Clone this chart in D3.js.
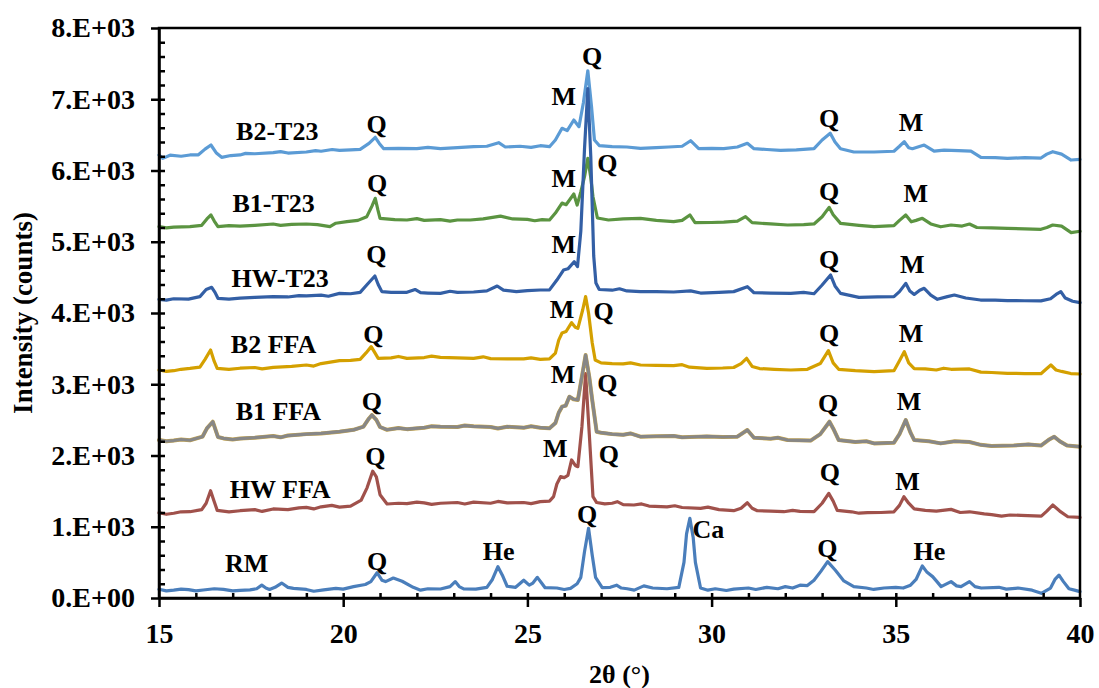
<!DOCTYPE html>
<html>
<head>
<meta charset="utf-8">
<script src="https://cdn.jsdelivr.net/npm/d3@7"></script>
<style>
  body { margin: 0; background: #fff; }
  text { font-family: "Liberation Serif", "Times New Roman", serif; font-weight: bold; fill: #000; }
  .line { fill: none; stroke-width: 3.2; stroke-linejoin: round; stroke-linecap: round; }
  .axis path, .axis line { stroke: #000; stroke-width: 2.5; }
</style>
</head>
<body>
<div id="my_dataviz"></div>
<script>
// ---------------------------------------------------------------- data
// each pattern is a list of [2theta, counts]
const rm = [[15.0,122],[15.2,100],[15.4,110],[15.6,125],[15.8,118],[16.0,100],[16.2,112],[16.5,130],[16.75,120],[17.0,100],[17.2,108],[17.47,115],[17.65,130],[17.79,180],[17.9,140],[18.0,120],[18.15,150],[18.33,210],[18.5,150],[18.65,135],[19.0,120],[19.2,95],[19.47,115],[19.8,135],[20.0,125],[20.28,160],[20.6,190],[20.75,230],[20.92,355],[21.05,250],[21.15,230],[21.36,280],[21.6,235],[21.9,150],[22.1,110],[22.3,130],[22.64,126],[22.9,160],[23.04,230],[23.15,160],[23.27,128],[23.6,125],[23.9,150],[24.05,260],[24.2,440],[24.32,320],[24.45,165],[24.68,150],[24.9,250],[25.05,180],[25.15,210],[25.27,290],[25.4,200],[25.48,145],[25.8,140],[26.0,120],[26.17,136],[26.35,200],[26.45,290],[26.55,650],[26.66,978],[26.76,600],[26.85,290],[27.03,145],[27.25,150],[27.42,180],[27.55,140],[27.71,130],[27.9,110],[28.16,170],[28.4,140],[28.79,130],[29.11,150],[29.25,500],[29.32,900],[29.41,1118],[29.5,850],[29.56,500],[29.7,140],[29.9,110],[30.1,130],[30.4,105],[30.6,125],[31.0,140],[31.2,120],[31.5,150],[31.8,130],[32.0,160],[32.2,140],[32.4,180],[32.6,175],[32.78,250],[32.96,370],[33.15,510],[33.36,390],[33.59,240],[33.86,160],[34.2,140],[34.4,120],[34.68,140],[35.0,150],[35.2,140],[35.4,180],[35.55,260],[35.72,450],[35.85,360],[36.0,300],[36.1,240],[36.23,160],[36.5,230],[36.65,170],[36.77,160],[37.0,230],[37.15,160],[37.32,140],[37.8,150],[38.0,125],[38.32,140],[38.7,110],[38.95,66],[39.2,140],[39.32,260],[39.43,320],[39.55,230],[39.7,130],[39.85,110],[40.0,90]];

const hwFFA = [[15.0,1197],[15.2,1175],[15.4,1190],[15.6,1210],[15.84,1211],[16.16,1240],[16.28,1330],[16.4,1506],[16.5,1350],[16.58,1230],[16.9,1210],[17.2,1225],[17.6,1240],[17.8,1215],[18.1,1250],[18.5,1240],[18.8,1265],[19.0,1272],[19.2,1250],[19.4,1280],[19.69,1300],[19.9,1275],[20.2,1290],[20.49,1375],[20.65,1550],[20.8,1780],[20.9,1700],[21.0,1450],[21.19,1319],[21.5,1330],[21.73,1325],[22.0,1345],[22.2,1335],[22.4,1315],[22.64,1330],[23.1,1340],[23.3,1320],[23.54,1345],[24.0,1330],[24.2,1355],[24.45,1335],[24.9,1340],[25.1,1325],[25.35,1352],[25.6,1360],[25.71,1422],[25.8,1600],[25.9,1703],[26.0,1690],[26.1,1720],[26.2,1937],[26.3,1860],[26.37,1843],[26.48,2404],[26.58,3150],[26.68,2300],[26.78,1422],[26.88,1340],[27.1,1320],[27.3,1330],[27.44,1352],[27.6,1310],[27.89,1305],[28.1,1320],[28.3,1290],[28.79,1280],[29.0,1295],[29.2,1270],[29.7,1258],[29.9,1275],[30.2,1240],[30.6,1225],[30.8,1260],[30.97,1337],[31.1,1260],[31.24,1225],[31.6,1220],[31.96,1211],[32.2,1230],[32.4,1215],[32.78,1211],[33.0,1330],[33.18,1469],[33.3,1360],[33.41,1230],[33.8,1210],[34.0,1190],[34.23,1197],[34.6,1200],[34.95,1210],[35.1,1300],[35.22,1422],[35.35,1330],[35.5,1250],[35.8,1230],[36.1,1220],[36.5,1244],[36.75,1200],[37.0,1210],[37.4,1180],[37.6,1170],[37.87,1150],[38.1,1165],[38.4,1160],[38.95,1150],[39.1,1220],[39.26,1305],[39.45,1220],[39.67,1140],[40.0,1132]];

const b1FFA = [[15.0,2217],[15.2,2200],[15.4,2210],[15.6,2225],[15.84,2214],[16.18,2264],[16.3,2380],[16.46,2474],[16.6,2260],[16.75,2240],[17.0,2225],[17.2,2238],[17.6,2250],[18.1,2274],[18.3,2255],[18.5,2280],[19.0,2300],[19.4,2310],[19.9,2334],[20.28,2360],[20.55,2404],[20.7,2520],[20.78,2568],[20.9,2500],[21.0,2400],[21.19,2361],[21.5,2385],[21.73,2370],[22.2,2390],[22.4,2410],[22.64,2404],[23.1,2400],[23.3,2420],[23.54,2410],[24.0,2400],[24.2,2380],[24.45,2404],[24.9,2390],[25.1,2410],[25.35,2390],[25.6,2381],[25.76,2456],[25.85,2600],[25.94,2685],[26.04,2700],[26.14,2825],[26.25,2790],[26.37,2780],[26.48,3106],[26.58,3410],[26.68,3100],[26.76,2779],[26.88,2334],[27.0,2320],[27.3,2300],[27.6,2290],[27.8,2310],[28.07,2264],[28.5,2270],[28.97,2275],[29.2,2255],[29.4,2260],[29.87,2268],[30.3,2260],[30.7,2264],[30.97,2358],[31.15,2250],[31.6,2235],[31.8,2250],[32.06,2217],[32.69,2210],[32.95,2300],[33.2,2474],[33.3,2380],[33.45,2217],[33.9,2190],[34.2,2200],[34.41,2170],[34.95,2180],[35.1,2300],[35.27,2498],[35.4,2320],[35.5,2217],[35.9,2200],[36.22,2170],[36.6,2200],[37.0,2190],[37.3,2150],[37.6,2133],[38.2,2140],[38.6,2155],[38.94,2140],[39.15,2220],[39.3,2264],[39.45,2200],[39.65,2140],[40.0,2124]];

const b2FFA = [[15.0,3200],[15.2,3180],[15.4,3190],[15.6,3210],[15.84,3222],[16.11,3240],[16.25,3350],[16.4,3480],[16.5,3320],[16.58,3224],[16.9,3210],[17.2,3225],[17.6,3235],[17.8,3215],[18.1,3238],[18.6,3250],[19.0,3270],[19.2,3255],[19.4,3290],[19.9,3331],[20.2,3335],[20.46,3350],[20.62,3440],[20.76,3528],[20.85,3450],[20.95,3364],[21.3,3370],[21.5,3390],[21.73,3364],[22.2,3375],[22.4,3395],[22.64,3378],[23.1,3370],[23.54,3364],[23.8,3385],[24.0,3360],[24.45,3357],[24.9,3355],[25.1,3370],[25.35,3350],[25.6,3355],[25.76,3438],[25.85,3620],[25.94,3719],[26.05,3740],[26.2,3864],[26.3,3800],[26.37,3785],[26.5,4042],[26.58,4230],[26.66,4000],[26.76,3578],[26.84,3340],[27.0,3300],[27.3,3290],[27.6,3285],[27.8,3300],[28.07,3270],[28.5,3265],[28.97,3262],[29.2,3275],[29.4,3240],[29.87,3224],[30.3,3228],[30.6,3235],[30.8,3290],[30.95,3364],[31.1,3250],[31.3,3220],[31.7,3210],[32.15,3200],[32.6,3210],[32.95,3290],[33.17,3471],[33.3,3300],[33.45,3210],[33.9,3190],[34.41,3177],[34.95,3190],[35.1,3330],[35.23,3457],[35.35,3300],[35.5,3220],[35.8,3215],[36.1,3200],[36.3,3225],[36.5,3210],[37.0,3215],[37.31,3170],[37.6,3165],[38.03,3154],[38.5,3150],[38.94,3148],[39.1,3220],[39.21,3270],[39.35,3200],[39.5,3180],[39.75,3150],[40.0,3144]];

const hwT23 = [[15.0,4192],[15.2,4180],[15.4,4200],[15.8,4195],[16.11,4230],[16.28,4330],[16.43,4360],[16.52,4290],[16.6,4206],[16.9,4195],[17.2,4210],[17.6,4220],[18.1,4229],[18.5,4225],[18.8,4245],[19.0,4240],[19.4,4250],[19.6,4235],[19.9,4276],[20.2,4270],[20.46,4290],[20.65,4400],[20.86,4519],[20.95,4400],[21.05,4300],[21.3,4290],[21.73,4290],[21.95,4330],[22.1,4285],[22.3,4280],[22.64,4275],[22.9,4305],[23.1,4290],[23.54,4295],[23.9,4310],[24.18,4379],[24.35,4320],[24.7,4300],[25.0,4315],[25.35,4323],[25.6,4325],[25.8,4463],[25.98,4603],[26.1,4620],[26.27,4720],[26.36,4650],[26.45,5150],[26.55,6300],[26.64,7150],[26.72,6200],[26.8,4800],[26.86,4420],[26.95,4330],[27.3,4320],[27.5,4340],[27.7,4310],[28.07,4299],[28.5,4300],[28.97,4295],[29.43,4310],[29.7,4280],[30.2,4290],[30.6,4300],[30.97,4370],[31.15,4285],[31.6,4280],[32.15,4276],[32.5,4290],[32.78,4270],[33.0,4393],[33.23,4533],[33.35,4380],[33.5,4276],[34.0,4220],[34.5,4225],[34.95,4230],[35.1,4300],[35.27,4416],[35.38,4310],[35.5,4260],[35.65,4320],[35.77,4346],[35.95,4250],[36.13,4192],[36.4,4230],[36.59,4252],[36.9,4210],[37.3,4182],[37.7,4180],[38.03,4175],[38.5,4172],[38.94,4170],[39.2,4200],[39.35,4260],[39.48,4300],[39.6,4210],[39.8,4165],[40.0,4145]];

const b1T23 = [[15.0,5212],[15.2,5195],[15.4,5205],[15.84,5212],[16.16,5230],[16.3,5320],[16.41,5376],[16.5,5290],[16.6,5212],[16.9,5225],[17.2,5218],[17.6,5230],[18.1,5249],[18.3,5230],[18.6,5245],[19.0,5249],[19.3,5240],[19.64,5212],[19.8,5260],[20.1,5282],[20.4,5300],[20.64,5352],[20.78,5500],[20.87,5610],[20.94,5450],[21.0,5329],[21.4,5310],[21.73,5305],[22.0,5325],[22.2,5300],[22.64,5310],[22.9,5290],[23.1,5305],[23.45,5305],[23.8,5320],[24.27,5360],[24.6,5320],[25.0,5315],[25.2,5295],[25.4,5310],[25.6,5305],[25.76,5403],[25.94,5543],[26.05,5520],[26.26,5670],[26.35,5515],[26.45,5700],[26.55,5913],[26.64,6171],[26.72,5900],[26.78,5632],[26.9,5333],[27.2,5305],[27.6,5320],[28.07,5329],[28.5,5300],[28.97,5282],[29.2,5300],[29.41,5376],[29.55,5268],[30.0,5270],[30.33,5275],[30.7,5290],[30.92,5352],[31.1,5268],[31.6,5250],[32.06,5235],[32.5,5240],[32.78,5250],[33.0,5350],[33.19,5483],[33.3,5380],[33.5,5258],[34.0,5230],[34.41,5211],[34.95,5225],[35.1,5300],[35.27,5376],[35.42,5280],[35.55,5300],[35.72,5329],[35.95,5250],[36.22,5210],[36.5,5235],[36.8,5220],[37.0,5249],[37.2,5200],[37.6,5195],[38.03,5189],[38.5,5180],[38.94,5175],[39.1,5200],[39.26,5235],[39.5,5220],[39.76,5128],[40.0,5147]];

const b2T23 = [[15.0,6218],[15.1,6170],[15.3,6215],[15.6,6200],[15.84,6218],[16.07,6220],[16.25,6300],[16.41,6358],[16.55,6250],[16.7,6185],[16.95,6210],[17.2,6218],[17.35,6240],[17.6,6235],[18.1,6250],[18.3,6265],[18.5,6245],[19.0,6260],[19.25,6280],[19.4,6270],[19.7,6295],[19.9,6283],[20.2,6290],[20.46,6297],[20.7,6380],[20.87,6466],[20.98,6380],[21.1,6306],[21.5,6310],[22.0,6306],[22.3,6325],[22.64,6306],[23.1,6320],[23.54,6334],[23.9,6340],[24.22,6390],[24.4,6330],[24.8,6340],[25.1,6325],[25.35,6348],[25.6,6334],[25.76,6428],[25.94,6592],[26.08,6560],[26.26,6709],[26.4,6615],[26.52,6950],[26.64,7400],[26.74,6900],[26.82,6428],[26.95,6350],[27.3,6334],[27.7,6330],[28.07,6311],[28.5,6320],[28.83,6330],[29.2,6340],[29.43,6418],[29.65,6306],[30.0,6310],[30.33,6306],[30.7,6330],[30.97,6381],[31.15,6306],[31.5,6295],[31.87,6283],[32.3,6290],[32.78,6306],[33.0,6428],[33.22,6522],[33.35,6400],[33.5,6306],[33.86,6260],[34.41,6260],[34.95,6270],[35.1,6340],[35.23,6404],[35.35,6320],[35.45,6306],[35.77,6357],[36.04,6272],[36.31,6285],[36.7,6280],[37.04,6272],[37.31,6185],[37.7,6180],[38.03,6170],[38.5,6180],[38.94,6175],[39.1,6230],[39.26,6264],[39.5,6230],[39.76,6147],[40.0,6155]];

// sample names and phase marks, anchored in data units [2theta, counts, text]
const sampleNames = [[18.21,6428,"B2-T23"],[18.11,5422,"B1-T23"],[18.29,4369,"HW-T23"],
  [18.11,3443,"B2 FFA"],[18.24,2498,"B1 FFA"],[18.29,1399,"HW FFA"],[17.38,369,"RM"]];

const phaseMarks = [
  [20.91,6522,"Q"],[20.92,5702,"Q"],[20.90,4697,"Q"],[20.82,3575,"Q"],[20.78,2639,"Q"],[20.87,1867,"Q"],[20.92,393,"Q"],
  [24.22,533,"He"],[26.62,1048,"Q"],[33.14,580,"Q"],[35.91,533,"He"],
  [33.21,1642,"Q"],[35.32,1509,"M"],
  [33.19,6615,"Q"],[35.41,6559,"M"],[33.19,5586,"Q"],[35.54,5562,"M"],
  [33.19,4627,"Q"],[35.45,4557,"M"],[33.19,3597,"Q"],[35.41,3597,"M"],
  [33.16,2615,"Q"],[35.36,2639,"M"],
  [26.76,7481,"Q"],[25.99,6919,"M"],[27.17,5983,"Q"],[25.99,5773,"M"],[25.99,4838,"M"],
  [25.94,3926,"M"],[27.07,3902,"Q"],[25.97,3013,"M"],[27.17,2895,"Q"],[25.76,1983,"M"],[27.21,1890,"Q"]
];
const caMark = [29.48,838,"Ca"];

const xTicks = [15, 20, 25, 30, 35, 40];
const yTicks = [0, 1000, 2000, 3000, 4000, 5000, 6000, 7000, 8000];

// set the dimensions and margins of the graph
const margin = {top: 28, right: 19, bottom: 90, left: 159},
    width = 1099 - margin.left - margin.right,
    height = 688 - margin.top - margin.bottom;

// append the svg object to the body of the page
const svg = d3.select("#my_dataviz")
  .append("svg")
    .attr("width", width + margin.left + margin.right)
    .attr("height", height + margin.top + margin.bottom)
  .append("g")
    .attr("transform", `translate(${margin.left},${margin.top})`);

// scales
const x = d3.scaleLinear().domain([15, 40]).range([0, width]);
const y = d3.scaleLinear().domain([0, 8000]).range([height, 0]);

const line = d3.line()
    .x(d => x(d[0]))
    .y(d => y(d[1]));

// --------------------------------------------------------------- patterns
// B1 FFA has a thin golden rim round its grey trace
svg.append("path").datum(rm).attr("class", "line").style("stroke", "#4a7ebb").attr("d", line);
svg.append("path").datum(hwFFA).attr("class", "line").style("stroke", "#a0514b").attr("d", line);
svg.append("path").datum(b1FFA).attr("class", "line").style("stroke", "#c9a84e").style("stroke-width", 4).attr("d", line);
svg.append("path").datum(b1FFA).attr("class", "line").style("stroke", "#878787").attr("d", line);
svg.append("path").datum(b2FFA).attr("class", "line").style("stroke", "#d4a000").attr("d", line);
svg.append("path").datum(b1T23).attr("class", "line").style("stroke", "#5b9441").attr("d", line);
svg.append("path").datum(b2T23).attr("class", "line").style("stroke", "#5b9bd5").attr("d", line);
svg.append("path").datum(hwT23).attr("class", "line").style("stroke", "#335fa5").attr("d", line);

// --------------------------------------------------------------- frame + axes
svg.append("rect")
    .attr("width", width).attr("height", height)
    .attr("fill", "none").attr("stroke", "#000").attr("stroke-width", 2.5);

// minor ticks point inwards
svg.append("g")
    .attr("class", "axis")
    .attr("transform", `translate(0,${height})`)
    .call(d3.axisBottom(x).tickValues(d3.range(16, 40, 1)).tickSize(-5).tickSizeOuter(0).tickFormat(""))
    .select(".domain").remove();
svg.append("g")
    .attr("class", "axis")
    .call(d3.axisLeft(y).tickValues(d3.range(200, 8000, 200)).tickSize(-6).tickSizeOuter(0).tickFormat(""))
    .select(".domain").remove();

// X axis
svg.append("g")
    .attr("class", "axis")
    .attr("transform", `translate(0,${height})`)
    .call(d3.axisBottom(x).tickValues(xTicks).tickSize(9).tickPadding(16).tickSizeOuter(0))
    .selectAll("text").style("font-size", "28px");

// Y axis
svg.append("g")
    .attr("class", "axis")
    .call(d3.axisLeft(y).tickValues(yTicks).tickSize(8).tickPadding(16).tickSizeOuter(0)
      .tickFormat(d => d === 0 ? "0.E+00" : (d / 1000) + ".E+03"))
    .selectAll("text").style("font-size", "28px");

// axis titles
svg.append("text")
    .attr("transform", `translate(${32 - margin.left},${height / 2}) rotate(-90)`)
    .attr("text-anchor", "middle")
    .style("font-size", "27px")
    .text("Intensity (counts)");

svg.append("text")
    .attr("x", x(27.5))
    .attr("y", height + 85)
    .attr("text-anchor", "middle")
    .style("font-size", "26px")
    .text("2θ (°)");

// --------------------------------------------------------------- labels
svg.selectAll(".name")
  .data(sampleNames)
  .join("text")
    .attr("class", "name")
    .attr("x", d => x(d[0]))
    .attr("y", d => y(d[1]))
    .attr("text-anchor", "middle")
    .style("font-size", "26px")
    .text(d => d[2]);

svg.selectAll(".mark")
  .data(phaseMarks)
  .join("text")
    .attr("class", "mark")
    .attr("x", d => x(d[0]))
    .attr("y", d => y(d[1]))
    .attr("text-anchor", "middle")
    .style("font-size", "26px")
    .text(d => d[2]);

svg.append("text")
    .attr("x", x(caMark[0]))
    .attr("y", y(caMark[1]))
    .style("font-size", "26px")
    .text(caMark[2]);
</script>
</body>
</html>
